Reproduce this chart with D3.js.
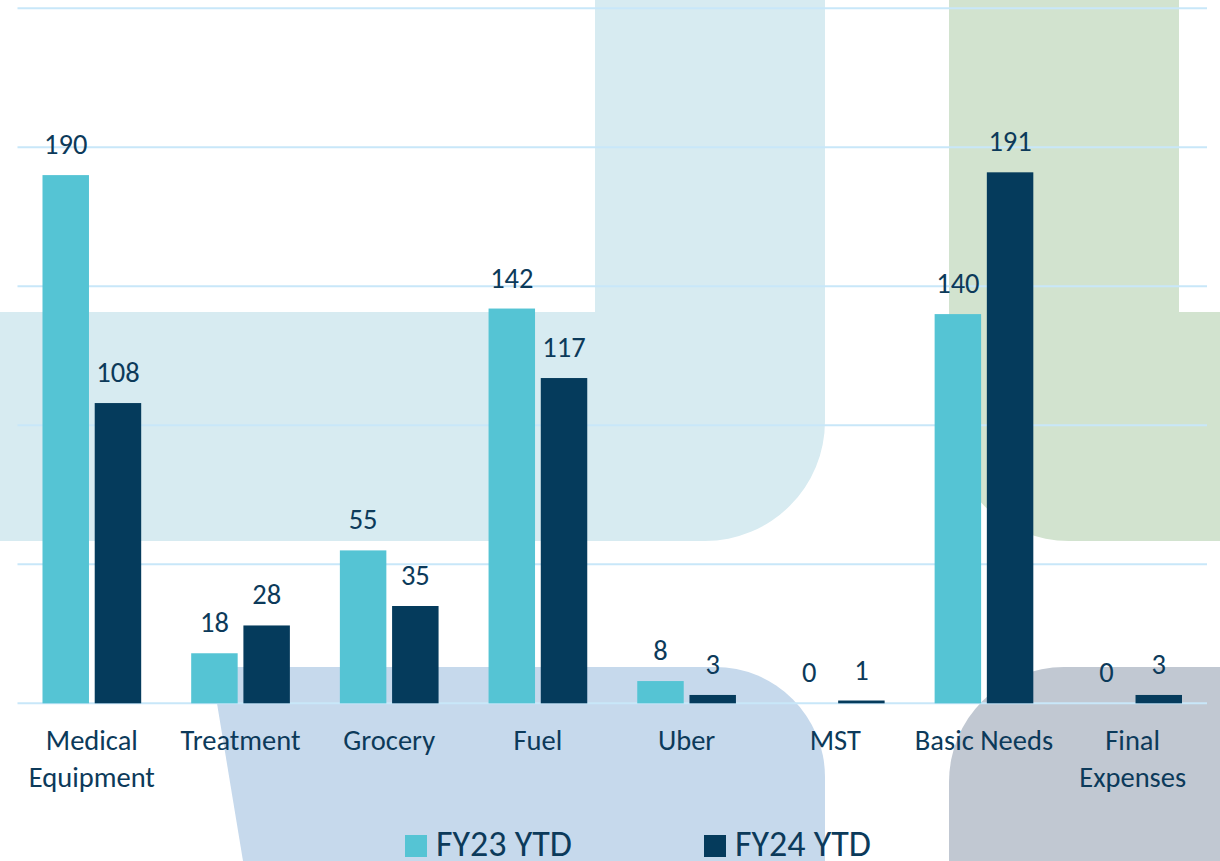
<!DOCTYPE html>
<html>
<head>
<meta charset="utf-8">
<script src="https://cdn.jsdelivr.net/npm/d3@7"></script>
<style>
  html, body { margin: 0; padding: 0; background: #ffffff; }
  svg { display: block; }
  text { font-family: Carlito, Calibri, Lato, "Noto Sans", sans-serif; }
</style>
</head>
<body>
<svg id="chart" width="1220" height="861"></svg>
<script>
// ---- data ----
const categories = ["Medical Equipment", "Treatment", "Grocery", "Fuel", "Uber", "MST", "Basic Needs", "Final Expenses"];
const seriesNames = ["FY23 YTD", "FY24 YTD"];
const fy23 = [190, 18, 55, 142, 8, 0, 140, 0];
const fy24 = [108, 28, 35, 117, 3, 1, 191, 3];
const yTicks = [0, 50, 100, 150, 200, 250];

const colors = { "FY23 YTD": "#55C4D4", "FY24 YTD": "#053B5C" };
const textColor = "#0C3A5A";

const W = 1220, H = 861;
const svg = d3.select("#chart");

// ---- decorative background shapes ----
const bg = svg.append("g");
(function () {
  const r = 120;
  const p = d3.path();
  p.moveTo(595, 0); p.lineTo(825, 0); p.lineTo(825, 541 - r);
  p.arcTo(825, 541, 825 - r, 541, r);
  p.lineTo(0, 541); p.lineTo(0, 312); p.lineTo(595, 312); p.closePath();
  bg.append("path").attr("d", p.toString()).attr("fill", "#D7EBF1");
})();
(function () {
  const r = 120;
  const p = d3.path();
  p.moveTo(949, 0); p.lineTo(1179, 0); p.lineTo(1179, 312); p.lineTo(W, 312);
  p.lineTo(W, 541); p.lineTo(949 + r, 541);
  p.arcTo(949, 541, 949, 541 - r, r);
  p.closePath();
  bg.append("path").attr("d", p.toString()).attr("fill", "#D2E3CF");
})();
(function () {
  const r = 110;
  const p = d3.path();
  p.moveTo(211, 667); p.lineTo(825 - r, 667);
  p.arcTo(825, 667, 825, 667 + r, r);
  p.lineTo(825, H); p.lineTo(243, H); p.closePath();
  bg.append("path").attr("d", p.toString()).attr("fill", "#C6D9EC");
})();
(function () {
  const r = 115;
  const p = d3.path();
  p.moveTo(949, H); p.lineTo(949, 667 + r);
  p.arcTo(949, 667, 949 + r, 667, r);
  p.lineTo(W, 667); p.lineTo(W, H); p.closePath();
  bg.append("path").attr("d", p.toString()).attr("fill", "#C1C8D2");
})();

// ---- scales ----
const x0 = d3.scaleBand().domain(categories).range([17.5, 1207]).paddingInner(0).paddingOuter(0);
const x1 = d3.scaleBand().domain(seriesNames).range([25, x0.bandwidth() - 25]).paddingInner(0.11).paddingOuter(0);
const y = d3.scaleLinear().domain([0, 250]).range([703.3, 8.3]);

// ---- gridlines ----
svg.append("g").selectAll("line").data(yTicks).join("line")
  .attr("x1", 17.5).attr("x2", 1207)
  .attr("y1", d => y(d)).attr("y2", d => y(d))
  .attr("stroke", "#C8E7F9").attr("stroke-width", 2);

// ---- bars ----
const rows = categories.map((c, i) => ({ cat: c, values: [
  { s: "FY23 YTD", v: fy23[i] }, { s: "FY24 YTD", v: fy24[i] }] }));

const groups = svg.append("g").selectAll("g").data(rows).join("g")
  .attr("transform", d => `translate(${x0(d.cat)},0)`);

groups.selectAll("rect").data(d => d.values).join("rect")
  .attr("x", d => x1(d.s)).attr("width", x1.bandwidth())
  .attr("y", d => y(d.v)).attr("height", d => y(0) - y(d.v))
  .attr("fill", d => colors[d.s]);

const labelSize = 28.5;
groups.selectAll("text.val").data(d => d.values).join("text")
  .attr("class", "val")
  .attr("x", d => x1(d.s) + x1.bandwidth() / 2)
  .attr("y", d => y(d.v) - 21)
  .attr("text-anchor", "middle")
  .attr("font-size", labelSize)
  .attr("fill", textColor)
  .text(d => d.v);

// ---- category axis labels (wrapped to band width) ----
const xAxisG = svg.append("g");
const measure = svg.append("text").attr("font-size", labelSize).attr("visibility", "hidden");
categories.forEach(c => {
  measure.text(c);
  const wTxt = measure.node().getComputedTextLength();
  const lines = wTxt > x0.bandwidth() - 4 ? c.split(" ") : [c];
  const cx = x0(c) + x0.bandwidth() / 2;
  const t = xAxisG.append("text")
    .attr("x", cx).attr("y", 750)
    .attr("text-anchor", "middle")
    .attr("font-size", labelSize)
    .attr("fill", textColor);
  lines.forEach((ln, i) => {
    t.append("tspan").attr("x", cx).attr("dy", i === 0 ? 0 : 36.5).text(ln);
  });
});
measure.remove();

// ---- legend ----
const legendX = [405, 704];
const legend = svg.append("g").selectAll("g").data(seriesNames).join("g")
  .attr("transform", (d, i) => `translate(${legendX[i]},835)`);
legend.append("rect").attr("width", 22).attr("height", 22).attr("fill", d => colors[d]);
legend.append("text").attr("x", 31).attr("y", 21)
  .attr("font-size", 36).attr("fill", textColor).text(d => d);
</script>
</body>
</html>
